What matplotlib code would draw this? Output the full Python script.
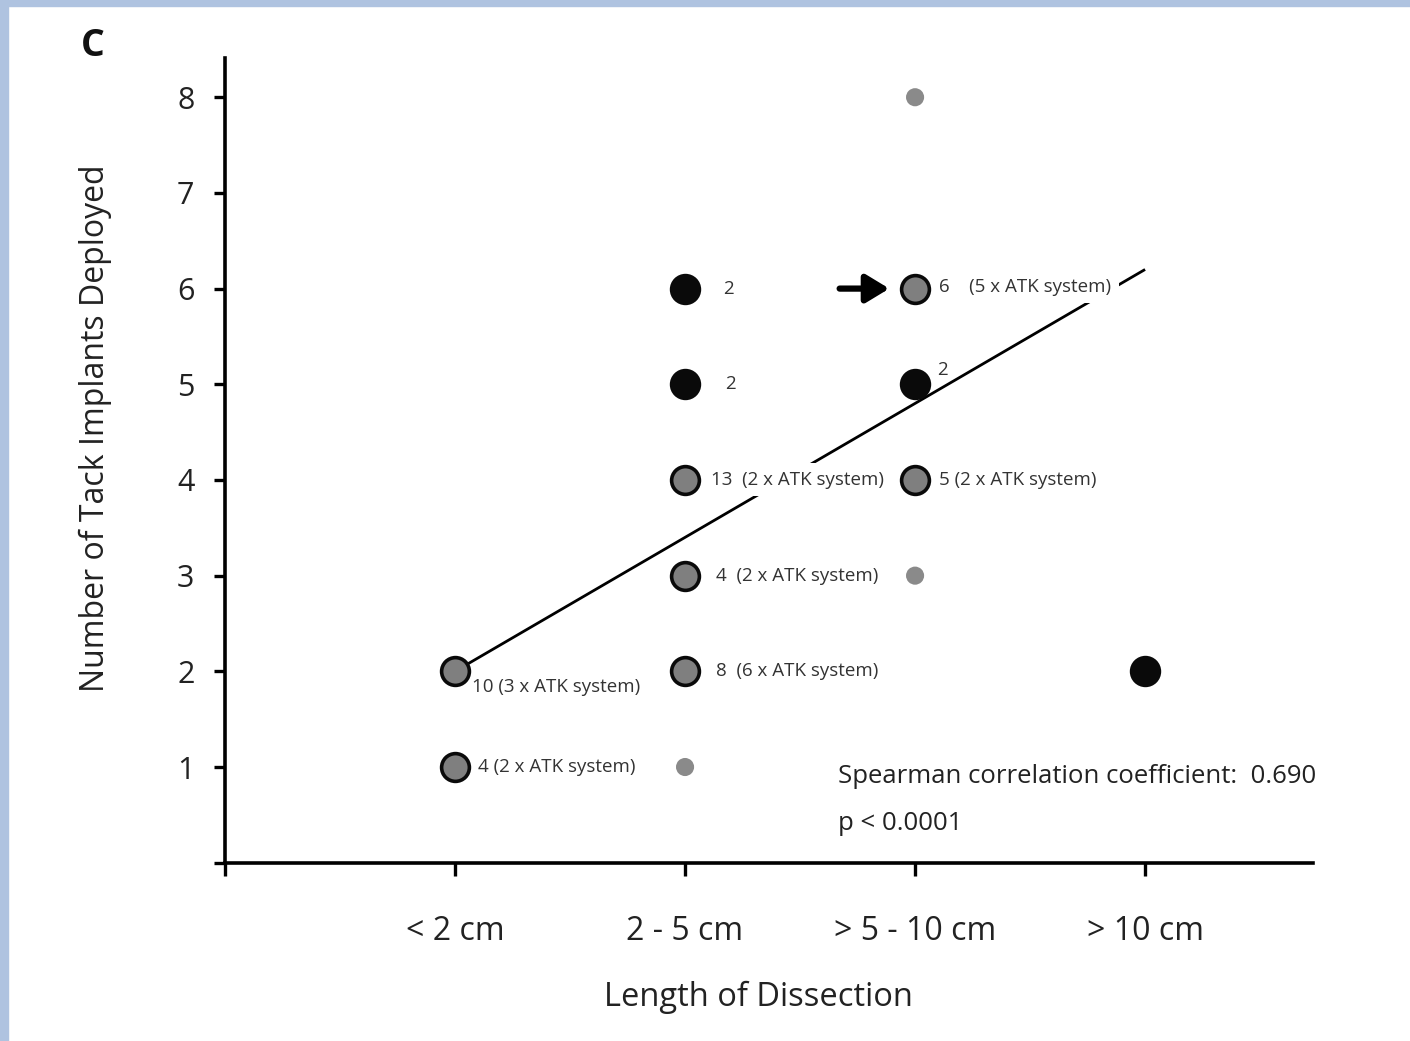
import matplotlib.pyplot as plt
from matplotlib.patches import Rectangle

plt.rcParams['font.family'] = ['Open Sans', 'DejaVu Sans']

# categories on the x axis
categories = ['< 2 cm', '2 - 5 cm', '> 5 - 10 cm', '> 10 cm']

# big points: x category index (1-based), tacks deployed, fill kind, label
pt_x = [1, 1, 2, 2, 2, 2, 2, 3, 3, 3, 4]
pt_y = [2, 1, 6, 5, 4, 3, 2, 6, 5, 4, 2]
pt_kind = ['gray', 'gray', 'black', 'black', 'gray', 'gray', 'gray', 'gray', 'black', 'gray', 'black']
pt_label = ['10 (3 x ATK system)', '4 (2 x ATK system)', '2', '2',
            '13  (2 x ATK system)', '4  (2 x ATK system)', '8  (6 x ATK system)',
            '6    (5 x ATK system)', '2', '5 (2 x ATK system)', '']

# small gray dots (single cases)
dot_x = [2, 3, 3]
dot_y = [1, 8, 3]

# regression line end points
fit_x = [1, 4]
fit_y = [2.0, 6.2]

spearman = 0.690

fig = plt.figure(figsize=(14.1, 10.41), dpi=100)
fig.patches.append(Rectangle((0, 0), 8 / 1410, 1, transform=fig.transFigure, color='#afc3e0', zorder=0))
fig.patches.append(Rectangle((0, 1 - 6 / 1041), 1, 6 / 1041, transform=fig.transFigure, color='#afc3e0', zorder=0))

ax = fig.add_axes([225 / 1410, 1 - 862.7 / 1041, (1313 - 225) / 1410, (862.7 - 58) / 1041])
ax.set_xlim(0, 4.73)
ax.set_ylim(0, 8.41)

ax.plot(fit_x, fit_y, color='black', lw=2.0, zorder=1, solid_capstyle='butt')

for x, y, k in zip(pt_x, pt_y, pt_kind):
    fc = '#0a0a0a' if k == 'black' else '#7f7f7f'
    ax.scatter(x, y, s=400, facecolor=fc, edgecolor='#0a0a0a', linewidth=2.6, zorder=3, clip_on=False)
ax.scatter(dot_x, dot_y, s=170, color='#8a8a8a', edgecolor='none', zorder=3, clip_on=False)

# label offsets in pixels (dx, dy); only some labels knock out the fit line
offsets = [(17, -16), (23, 0), (38, 0), (40, 0), (26, 0), (31, 0), (31, 0), (24, 2), (22, 14), (24, 0), (0, 0)]
boxed = [False, False, False, False, True, False, False, True, False, False, False]
for x, y, lab, (dx, dy), b in zip(pt_x, pt_y, pt_label, offsets, boxed):
    if not lab:
        continue
    bb = dict(boxstyle='square,pad=0.4', fc='white', ec='none') if b else None
    ax.annotate(lab, (x, y), xytext=(dx, dy), textcoords='offset pixels',
                ha='left', va='center', fontsize=13.5, color='#333333', zorder=4, bbox=bb)

# arrow pointing at the 6 tacks / >5-10 cm point
ax.annotate('', xy=(2.9, 6), xytext=(2.66, 6),
            arrowprops=dict(arrowstyle='-|>,head_length=1.4,head_width=0.85', color='black', lw=4.5))

ax.text(2.665, 0.9, 'Spearman correlation coefficient:  %.3f' % spearman, fontsize=18.5,
        color='#222222', va='center', ha='left')
ax.text(2.665, 0.41, 'p < 0.0001', fontsize=18.5, color='#222222', va='center', ha='left')

for side in ['top', 'right']:
    ax.spines[side].set_visible(False)
for side in ['left', 'bottom']:
    ax.spines[side].set_linewidth(2.6)

ax.set_yticks(range(0, 9))
ax.set_yticklabels([''] + [str(i) for i in range(1, 9)])
ax.set_xticks(range(0, 5))
ax.set_xticklabels([''] + categories)
ax.tick_params(axis='y', direction='out', length=8, width=2.4, pad=14, labelsize=22, labelcolor='#222222')
ax.tick_params(axis='x', direction='out', length=9, width=2.4, pad=29, labelsize=23, labelcolor='#222222')

fig.text(95 / 1410, 1 - 428 / 1041, 'Number of Tack Implants Deployed', rotation=90,
         ha='center', va='center', fontsize=23, color='#222222')
fig.text(758 / 1410, 1 - 997 / 1041, 'Length of Dissection', ha='center', va='center',
         fontsize=23.5, color='#222222')
fig.text(93 / 1410, 1 - 46 / 1041, 'C', ha='center', va='center', fontsize=27,
         fontweight='bold', color='#111111')

fig.savefig('out.png', dpi=100, facecolor='white')
